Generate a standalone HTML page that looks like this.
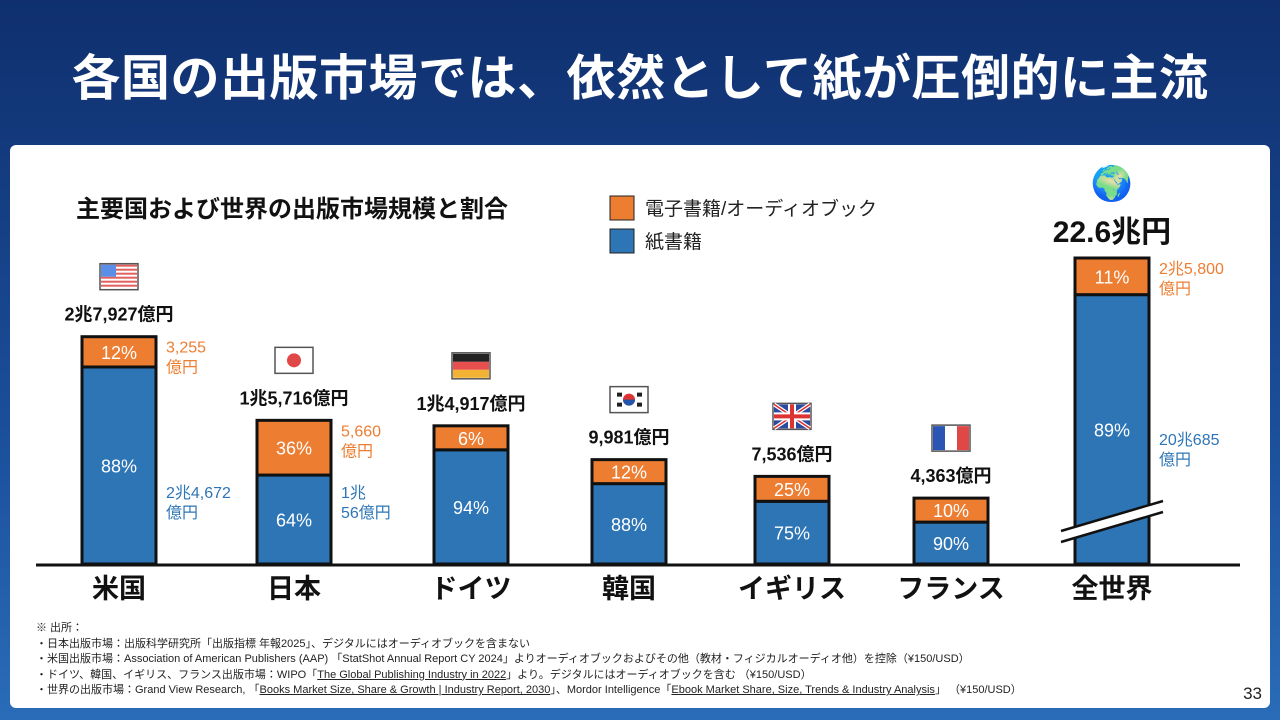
<!DOCTYPE html>
<html><head><meta charset="utf-8">
<style>
body{margin:0;width:1280px;height:720px;overflow:hidden;background:linear-gradient(180deg,#0f2f6e 0%,#1b4f9a 60%,#2a6cb8 100%);font-family:"Liberation Sans","Noto Sans CJK JP",sans-serif;position:relative}
#title{position:absolute;left:0;top:49px;width:1280px;text-align:center;color:#fff;font-size:49px;line-height:60px;font-weight:bold;letter-spacing:0.5px}
#panel{position:absolute;left:10px;top:145px;width:1260px;height:563px;background:#fff;border-radius:6px}
#notes{position:absolute;left:36px;top:621px;font-size:11px;line-height:15.5px;color:#222}
#notes u{text-decoration:underline}
#pnum{position:absolute;right:18px;top:684px;font-size:17px;color:#222}
</style></head><body>
<div id="title">各国の出版市場では、依然として紙が圧倒的に主流</div>
<div id="panel"></div>
<svg id="chart" width="1280" height="720" style="position:absolute;left:0;top:0">
<text x="76" y="217" font-size="24" font-weight="bold" fill="#111">主要国および世界の出版市場規模と割合</text>
<rect x="610" y="196" width="24" height="24" fill="#ed7d31" stroke="#222"/>
<text x="645" y="215" font-size="19" fill="#222">電子書籍/オーディオブック</text>
<rect x="610" y="229" width="24" height="24" fill="#2e75b6" stroke="#222"/>
<text x="645" y="248" font-size="19" fill="#222">紙書籍</text>
<line x1="36" y1="565" x2="1240" y2="565" stroke="#111" stroke-width="3"/>
<g id="bars"></g>
</svg>
<div id="notes">※ 出所：<br>・日本出版市場：出版科学研究所「出版指標 年報2025」、デジタルにはオーディオブックを含まない<br>・米国出版市場：Association of American Publishers (AAP) 「StatShot Annual Report CY 2024」よりオーディオブックおよびその他（教材・フィジカルオーディオ他）を控除（¥150/USD）<br>・ドイツ、韓国、イギリス、フランス出版市場：WIPO「<u>The Global Publishing Industry in 2022</u>」より。デジタルにはオーディオブックを含む （¥150/USD）<br>・世界の出版市場：Grand View Research, 「<u>Books Market Size, Share &amp; Growth | Industry Report, 2030</u>」、Mordor Intelligence「<u>Ebook Market Share, Size, Trends &amp; Industry Analysis</u>」 （¥150/USD）</div>
<div id="pnum">33</div>
<script>
const categories=["米国","日本","ドイツ","韓国","イギリス","フランス","全世界"];
const totals=[27927,15716,14917,9981,7536,4363,226000];
const totalLabels=["2兆7,927億円","1兆5,716億円","1兆4,917億円","9,981億円","7,536億円","4,363億円","22.6兆円"];
const digitalPct=[12,36,6,12,25,10,11];
const paperPct=[88,64,94,88,75,90,89];
const digitalLabels=[["3,255","億円"],["5,660","億円"],null,null,null,null,["2兆5,800","億円"]];
const paperLabels=[["2兆4,672","億円"],["1兆","56億円"],null,null,null,null,["20兆685","億円"]];
const flags=["us","jp","de","kr","uk","fr","globe"];
const NS="http://www.w3.org/2000/svg";
const g=document.getElementById("bars");
const base=564, bw=74;
function xPos(i){return i<6?[82,257,434,592,755,914][i]:1075;}
function hScale(v){return Math.min(306,36+0.00685*v);}
function el(t,a,txt){const e=document.createElementNS(NS,t);for(const k in a)e.setAttribute(k,a[k]);if(txt!=null)e.textContent=txt;g.appendChild(e);return e;}
function flag(kind,cx,cy){
 const x=cx-18,y=cy-12;
 if(kind==="globe"){const t=el("text",{x:cx,y:cy+12,"text-anchor":"middle","font-size":34},"🌍");return;}
 const r=el("rect",{x:x-1,y:y-1,width:38,height:26,fill:"#fff",stroke:"#555","stroke-width":1.5});
 
 
 if(kind==="us"){for(let s=0;s<6;s++)el("rect",{x:x,y:y+s*4,width:36,height:2,fill:"#e06060"});el("rect",{x:x,y:y,width:15,height:12,fill:"#5b8ee6"});}
 if(kind==="jp")el("circle",{cx:cx,cy:cy,r:7,fill:"#e04848"});
 if(kind==="de"){el("rect",{x:x,y:y,width:36,height:8,fill:"#222"});el("rect",{x:x,y:y+8,width:36,height:8,fill:"#e85050"});el("rect",{x:x,y:y+16,width:36,height:8,fill:"#f2b233"});}
 if(kind==="kr"){el("circle",{cx:cx,cy:cy,r:6,fill:"#d33"});el("path",{d:`M${cx-6} ${cy} A6 6 0 0 0 ${cx+6} ${cy}Z`,fill:"#2255aa"});
  [[-12,-7],[8,-7],[-12,3],[8,3]].forEach(p=>el("rect",{x:cx+p[0],y:cy+p[1],width:5,height:4,fill:"#222"}));}
 if(kind==="uk"){el("rect",{x:x,y:y,width:36,height:24,fill:"#2b4aa0"});el("path",{d:`M${x} ${y}L${x+36} ${y+24}M${x+36} ${y}L${x} ${y+24}`,stroke:"#fff","stroke-width":4});
  el("path",{d:`M${x} ${y}L${x+36} ${y+24}M${x+36} ${y}L${x} ${y+24}`,stroke:"#d33","stroke-width":1.5});
  el("rect",{x:cx-4,y:y,width:8,height:24,fill:"#fff"});el("rect",{x:x,y:cy-4,width:36,height:8,fill:"#fff"});
  el("rect",{x:cx-2,y:y,width:4,height:24,fill:"#d33"});el("rect",{x:x,y:cy-2,width:36,height:4,fill:"#d33"});}
 if(kind==="fr"){el("rect",{x:x,y:y,width:12,height:24,fill:"#2b55b5"});el("rect",{x:x+24,y:y,width:12,height:24,fill:"#e04848"});}
}
categories.forEach((c,i)=>{
 const x=xPos(i), h=hScale(totals[i]), top=base-h, dh=Math.max(h*digitalPct[i]/100+3,24), split=top+dh, cx=x+bw/2;
 const pb=el("rect",{x:x,y:split,width:bw,height:base-split,fill:"#2e75b6",stroke:"#111","stroke-width":3});
 
 
 const db=el("rect",{x:x,y:top,width:bw,height:dh,fill:"#ed7d31",stroke:"#111","stroke-width":3});
 
 
 el("text",{x:cx,y:top+dh/2+7,"text-anchor":"middle","font-size":18,fill:"#fff"},digitalPct[i]+"%");
 el("text",{x:cx,y:(split+base)/2+7,"text-anchor":"middle","font-size":18,fill:"#fff"},paperPct[i]+"%");
 const big=i===6;
 const tl=el("text",{x:cx,y:top-16,"text-anchor":"middle","font-size":big?30:18,"font-weight":"bold",fill:"#111"},totalLabels[i]);
 
 
 flag(flags[i],cx,top-(big?75:60));
 if(big){el("path",{d:`M${x-14} ${base-28}L${x+bw+14} ${base-58}`,stroke:"#fff","stroke-width":10});
  el("path",{d:`M${x-14} ${base-33}L${x+bw+14} ${base-63}M${x-14} ${base-22}L${x+bw+14} ${base-52}`,stroke:"#111","stroke-width":2.5});}
 if(digitalLabels[i]){digitalLabels[i].forEach((t,k)=>el("text",{x:x+bw+10,y:top+16+k*20,"font-size":16,fill:"#ed7d31"},t));}
 if(paperLabels[i]){const py=big?445:base-66;paperLabels[i].forEach((t,k)=>el("text",{x:x+bw+10,y:py+k*20,"font-size":16,fill:"#2e75b6"},t));}
 const cl=el("text",{x:cx,y:598,"text-anchor":"middle","font-size":27,"font-weight":"bold",fill:"#111"},c);
 
 
});
</script>
</body></html>
